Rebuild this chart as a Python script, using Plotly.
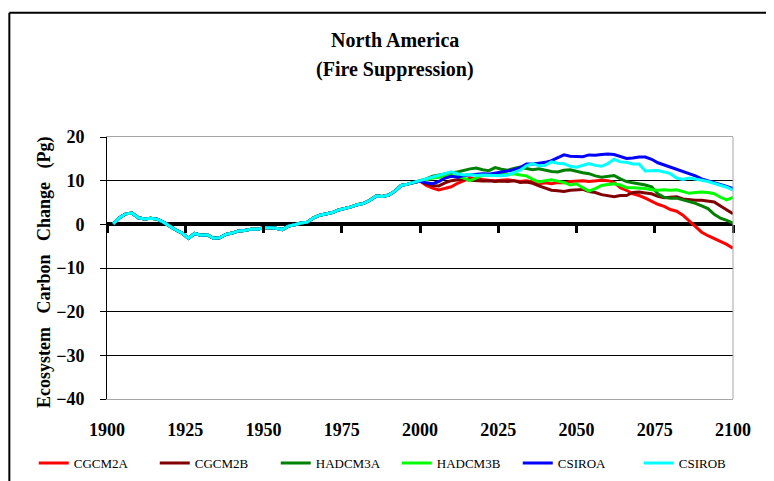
import plotly.graph_objects as go

# ---------------- data ----------------
years = list(range(1902, 2101, 2))

# shared historical part (1902..1998, every 2 years)
hist = [0.1, 1.5, 2.4, 2.6, 1.5, 1.2, 1.4, 1.2, 0.5, -0.5,
        -1.3, -2.0, -3.2, -2.1, -2.5, -2.4, -3.2, -3.1, -2.3, -2.0,
        -1.5, -1.4, -1.1, -1.1, -0.8, -0.8, -0.9, -1.2, -0.4, -0.1,
        0.3, 0.5, 1.5, 2.1, 2.4, 2.7, 3.3, 3.6, 4.0, 4.5,
        4.8, 5.5, 6.5, 6.4, 6.7, 7.6, 8.9, 9.2, 9.6]

# scenario parts (2000..2100, every 2 years)
cgcm2a = [9.9, 8.9, 8.3, 7.9, 8.2, 8.6, 9.4, 10.0, 10.6, 10.4,
          10.2, 10.1, 10.0, 10.1, 10.2, 10.0, 9.8, 10.0, 9.6, 9.3,
          9.5, 9.3, 9.6, 9.5, 9.8, 9.9, 10.0, 9.8, 10.0, 10.1,
          10.0, 9.6, 8.4, 7.8, 7.0, 6.6, 6.0, 5.3, 4.6, 4.1,
          3.4, 3.0, 2.1, 0.8, -0.6, -1.8, -2.6, -3.3, -3.9, -4.6, -5.5]
cgcm2b = [9.9, 9.3, 8.9, 8.8, 9.5, 10.0, 10.2, 10.4, 10.1, 10.0,
          9.9, 10.0, 9.8, 9.9, 9.8, 10.0, 9.6, 9.7, 9.4, 8.8,
          8.3, 7.8, 7.7, 7.5, 7.8, 7.9, 8.0, 7.5, 7.3, 6.8,
          6.6, 6.3, 6.6, 6.6, 7.3, 7.4, 7.2, 7.0, 6.4, 6.1,
          6.2, 6.3, 5.8, 5.6, 5.5, 5.5, 5.3, 5.1, 4.2, 3.3, 2.4]
hadcm3a = [9.9, 10.4, 11.0, 11.3, 11.6, 11.8, 12.0, 12.4, 12.7, 12.9,
           12.5, 12.3, 13.0, 12.6, 12.4, 12.8, 13.1, 12.8, 12.5, 12.7,
           12.4, 12.1, 12.0, 12.4, 12.5, 12.1, 11.8, 11.6, 11.1, 10.8,
           11.0, 11.2, 10.4, 9.8, 9.5, 9.3, 9.0, 8.6, 7.0, 6.2,
           6.0, 6.0, 5.6, 5.3, 4.8, 4.2, 3.6, 2.3, 1.4, 0.9, 0.3]
hadcm3b = [9.9, 10.2, 10.6, 10.8, 11.0, 11.2, 11.0, 10.6, 10.0, 10.6,
           11.2, 11.3, 11.5, 11.6, 11.4, 11.6, 11.3, 11.1, 10.3, 9.7,
           10.0, 10.2, 9.9, 9.6, 9.0, 9.3, 8.4, 7.6, 8.2, 8.9,
           9.1, 9.3, 9.0, 8.4, 8.4, 8.3, 8.2, 7.9, 7.8, 7.9,
           7.8, 7.9, 7.5, 7.1, 7.3, 7.4, 7.3, 7.0, 6.2, 5.6, 6.2]
csiroa = [9.9, 9.5, 9.3, 9.8, 10.6, 11.0, 10.8, 11.2, 11.3, 11.5,
          11.6, 11.5, 11.7, 11.9, 12.2, 12.5, 13.0, 13.8, 13.8, 14.0,
          14.2, 14.6, 15.3, 15.9, 15.6, 15.6, 15.5, 15.9, 15.8, 16.0,
          16.1, 16.0, 15.6, 15.1, 15.2, 15.4, 15.4, 14.9, 14.1, 13.6,
          13.0, 12.5, 12.0, 11.6, 11.1, 10.4, 10.0, 9.6, 9.2, 8.7, 8.2]
csirob = [9.9, 10.3, 10.8, 11.2, 11.6, 12.0, 11.6, 11.3, 11.4, 11.2,
          11.3, 11.2, 11.2, 11.1, 11.3, 11.8, 12.4, 13.4, 13.9, 13.4,
          13.5, 14.3, 14.0, 13.9, 13.3, 13.1, 13.5, 13.9, 13.5, 13.3,
          13.9, 14.9, 14.3, 14.2, 13.8, 13.8, 12.2, 12.2, 12.3, 12.0,
          11.6, 10.6, 10.3, 10.6, 10.4, 10.1, 9.8, 9.4, 9.0, 8.5, 7.8]

series_names = ["CGCM2A", "CGCM2B", "HADCM3A", "HADCM3B", "CSIROA", "CSIROB"]
series_future = [cgcm2a, cgcm2b, hadcm3a, hadcm3b, csiroa, csirob]
series_colors = ["#FF0000", "#800000", "#008000", "#00FF00", "#0000FF", "#00FFFF"]

x_ticks = [1900, 1925, 1950, 1975, 2000, 2025, 2050, 2075, 2100]
y_ticks = [-40, -30, -20, -10, 0, 10, 20]
x_range = [1900, 2100]
y_range = [-40, 20]

# ---------------- figure ----------------
fig = go.Figure()
for name, fut, col in zip(series_names, series_future, series_colors):
    fig.add_trace(go.Scatter(x=years, y=hist + fut, mode="lines", name=name,
                             line=dict(color=col, width=3), hoverinfo="skip"))

# helper axis carrying the tick marks on the zero line
fig.add_trace(go.Scatter(x=[], y=[], xaxis="x2", showlegend=False, hoverinfo="skip"))

serif = '"Liberation Serif", "Times New Roman", serif'
zero_frac = (0 - y_range[0]) / (y_range[1] - y_range[0])
sp = "\u00a0\u00a0 "

fig.update_layout(
    width=766, height=473,
    margin=dict(l=99, r=41, t=129, b=82, autoexpand=False),
    paper_bgcolor="white", plot_bgcolor="white",
    font=dict(family=serif, color="black"),
    showlegend=True,
    legend=dict(orientation="h", x=-0.117, y=-0.244, xanchor="left", yanchor="middle",
                font=dict(family=serif, size=13, color="black"),
                entrywidth=76, entrywidthmode="pixels",
                itemwidth=30, tracegroupgap=0, bgcolor="rgba(0,0,0,0)"),
    xaxis=dict(range=x_range, tickvals=x_ticks, ticks="", showgrid=False, zeroline=False,
               showline=True, linecolor="#a6a6a6", linewidth=1, mirror=True,
               tickfont=dict(family=serif, size=18, color="black", weight="bold"),
               ticklabelstandoff=14, automargin=False),
    xaxis2=dict(range=x_range, tickvals=x_ticks, overlaying="x", anchor="free",
                position=zero_frac, side="bottom", ticks="outside", ticklen=8,
                tickwidth=3, tickcolor="black", showticklabels=False,
                showline=False, showgrid=False, zeroline=False),
    yaxis=dict(range=y_range, tickvals=y_ticks, ticks="outside", ticklen=6,
               tickcolor="black", tickwidth=1,
               showgrid=True, gridcolor="black", gridwidth=1,
               zeroline=True, zerolinecolor="black", zerolinewidth=4,
               showline=True, linecolor="black", linewidth=1,
               tickfont=dict(family=serif, size=18, color="black", weight="bold"),
               ticklabelstandoff=12, automargin=False),
    annotations=[
        dict(text="<b>North America</b>", xref="paper", yref="paper", x=0.46, y=1.37,
             xanchor="center", yanchor="middle", showarrow=False,
             font=dict(family=serif, size=20, color="black")),
        dict(text="<b>(Fire Suppression)</b>", xref="paper", yref="paper", x=0.46, y=1.256,
             xanchor="center", yanchor="middle", showarrow=False,
             font=dict(family=serif, size=20, color="black")),
        dict(text="<b>Ecosystem" + sp + "Carbon" + sp + "Change" + sp + "(Pg)</b>",
             xref="paper", yref="paper",
             x=-0.099, y=0.485, xanchor="center", yanchor="middle", textangle=-90,
             showarrow=False, font=dict(family=serif, size=18, color="black")),
    ],
    shapes=[
        # right grey border of plot area
        dict(type="line", xref="paper", yref="paper", x0=1, x1=1, y0=0, y1=1,
             line=dict(color="#a6a6a6", width=1)),
        # outer frame (left and top)
        dict(type="line", xref="paper", yref="paper", x0=-0.156, x1=-0.156, y0=-0.32, y1=1.474,
             line=dict(color="black", width=2)),
        dict(type="line", xref="paper", yref="paper", x0=-0.156, x1=1.07, y0=1.474, y1=1.474,
             line=dict(color="black", width=2)),
    ],
)

fig.write_html("out.html")
